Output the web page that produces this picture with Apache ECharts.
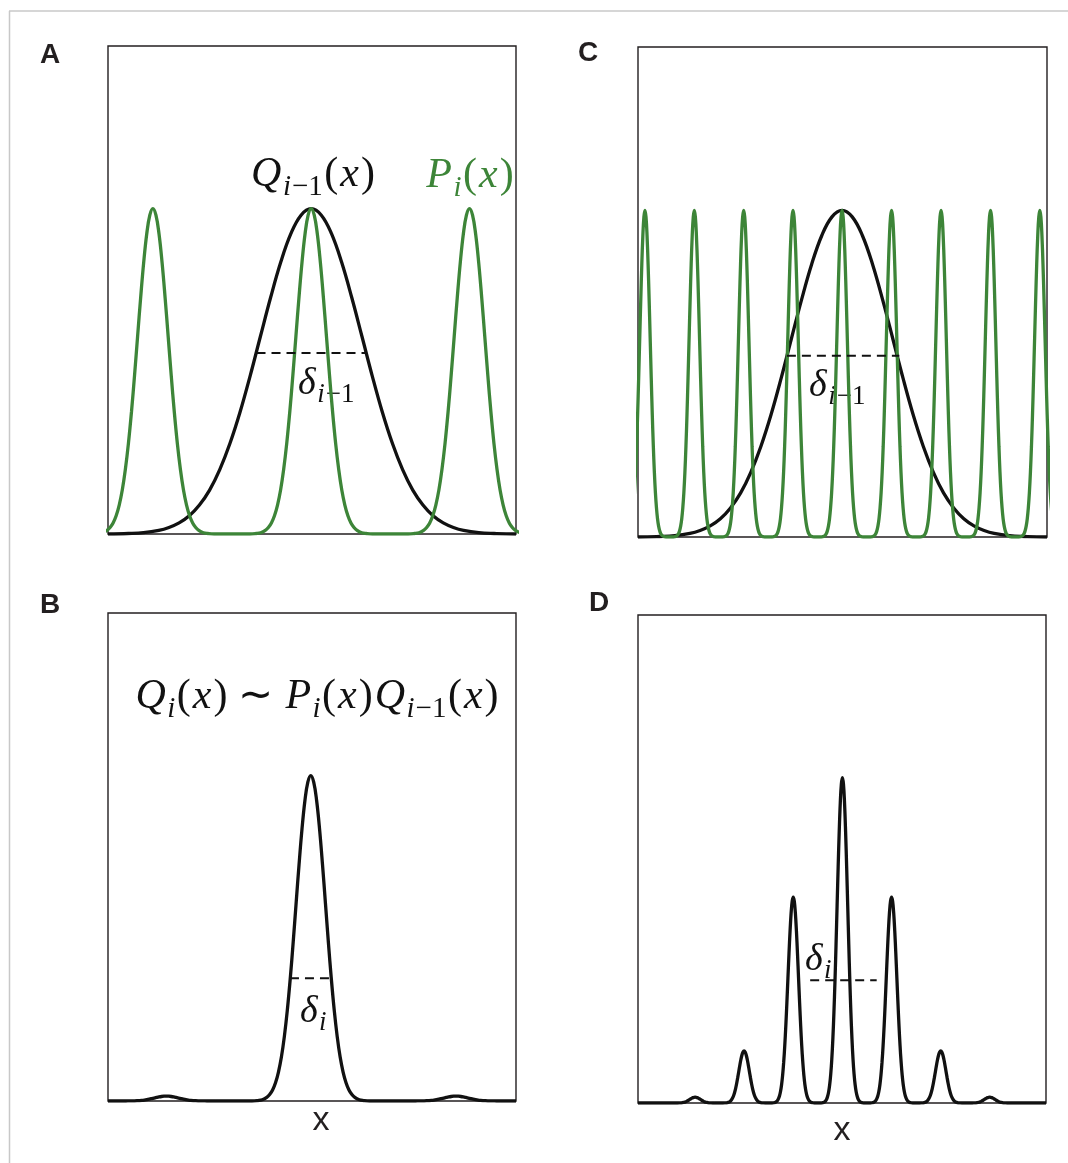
<!DOCTYPE html>
<html>
<head>
<meta charset="utf-8">
<script src="https://cdn.jsdelivr.net/npm/echarts@6/dist/echarts.min.js"></script>
<style>
html,body{margin:0;padding:0;background:#fff;}
#main{width:1068px;height:1163px;}
</style>
</head>
<body>
<div id="main"></div>
<script>
// one half of a peak: steps in peak widths from the top, level relative to the top
var shapeSteps  = [0, 0.2, 0.4, 0.6, 0.8, 1.0, 1.2, 1.4, 1.6, 1.8, 2.0, 2.2, 2.4, 2.6, 2.8, 3.0, 3.3, 3.6, 4.0];
var shapeLevels = [1, 0.980, 0.923, 0.835, 0.726, 0.607, 0.487, 0.375, 0.278, 0.198, 0.135, 0.089, 0.056, 0.034, 0.020, 0.011, 0.004, 0.0015, 0];

// A: Q_{i-1}(x) and the comb P_i(x)
var qPrevCentersA = [49.8];
var qPrevHeightsA = [1];
var qPrevWidthsA  = [12.45];
var combCentersA  = [11.0, 49.8, 88.6];
var combHeightsA  = [1, 1, 1];
var combWidthsA   = [3.75, 3.75, 3.75];
var deltaSpanA  = [36.4, 63.4];
var deltaLevelA = 0.556;

// B: Q_i(x) = P_i(x) Q_{i-1}(x)
var qCentersB = [14.3, 49.7, 85.3];
var qHeightsB = [0.015, 1, 0.015];
var qWidthsB  = [3, 3.6, 3];
var deltaSpanB  = [44.6, 54.9];
var deltaLevelB = 0.377;

// C: same Q_{i-1}(x), finer comb
var qPrevCentersC = [49.9];
var qPrevHeightsC = [1];
var qPrevWidthsC  = [12.4];
var combCentersC  = [1.7, 13.77, 25.84, 37.9, 49.9, 62.0, 74.1, 86.2, 98.25];
var combHeightsC  = [1, 1, 1, 1, 1, 1, 1, 1, 1];
var combWidthsC   = [1.28, 1.28, 1.28, 1.28, 1.28, 1.28, 1.28, 1.28, 1.28];
var deltaSpanC  = [36.4, 63.9];
var deltaLevelC = 0.555;

// D: product, several peaks
var qCentersD = [14.0, 26.0, 38.05, 50.1, 62.15, 74.2, 86.2];
var qHeightsD = [0.018, 0.16, 0.633, 1, 0.633, 0.16, 0.018];
var qWidthsD  = [1.3, 1.3, 1.3, 1.3, 1.3, 1.3, 1.3];
var deltaSpanD  = [42.2, 58.5];
var deltaLevelD = 0.377;

var panelLetters = ['A', 'B', 'C', 'D'];

function buildCurve(centers, heights, widths) {
    var pts = [];
    for (var k = 0; k < centers.length; k++) {
        for (var j = shapeSteps.length - 1; j > 0; j--) {
            pts.push([centers[k] - shapeSteps[j] * widths[k], heights[k] * shapeLevels[j]]);
        }
        for (j = 0; j < shapeSteps.length; j++) {
            pts.push([centers[k] + shapeSteps[j] * widths[k], heights[k] * shapeLevels[j]]);
        }
    }
    if (pts[0][0] > 0) pts.unshift([0, 0]);
    if (pts[pts.length - 1][0] < 100) pts.push([100, 0]);
    return pts;
}

var black = '#111111';
var green = '#3d8538';
var ink = '#231f20';

function curve(idx, pts, color) {
    return {
        type: 'line', xAxisIndex: idx, yAxisIndex: idx,
        data: pts, symbol: 'none', smooth: 0.4,
        lineStyle: {color: color, width: 3.3}, silent: true
    };
}
function dashed(idx, span, level) {
    return {
        type: 'line', xAxisIndex: idx, yAxisIndex: idx,
        data: [[span[0], level], [span[1], level]], symbol: 'none',
        lineStyle: {color: black, width: 2, type: [9, 6]}, silent: true
    };
}

var grids = [
    {left: 108, top: 46, width: 408, height: 488},   // A
    {left: 108, top: 613, width: 408, height: 488},  // B
    {left: 638, top: 47, width: 409, height: 490},   // C
    {left: 638, top: 615, width: 408, height: 488}   // D
];
grids.forEach(function (g) {
    g.show = true;
    g.borderColor = ink;
    g.borderWidth = 1.4;
    g.backgroundColor = 'transparent';
});

var xAxes = [], yAxes = [];
for (var i = 0; i < 4; i++) {
    xAxes.push({type: 'value', gridIndex: i, min: 0, max: 100, show: false});
    yAxes.push({type: 'value', gridIndex: i, min: 0, max: 1.5, show: false});
}

var mathFont = '"Liberation Serif","Times New Roman",serif';
function mathRich(size, color) {
    var sub = Math.round(size * 0.7);
    return {
        m: {fontFamily: mathFont, fontStyle: 'italic', fontSize: size, lineHeight: size * 1.3, padding: [0, 1], fill: color},
        r: {fontFamily: mathFont, fontSize: size, lineHeight: size * 1.3, padding: [0, 1], fill: color},
        s: {fontFamily: mathFont, fontStyle: 'italic', fontSize: sub, verticalAlign: 'bottom', padding: [0, 0.5], fill: color},
        t: {fontFamily: mathFont, fontSize: sub, verticalAlign: 'bottom', padding: [0, 0.5], fill: color}
    };
}
function mathText(x, y, text, size, color) {
    return {
        type: 'text', x: x, y: y, silent: true,
        style: {text: text, align: 'center', verticalAlign: 'middle', rich: mathRich(size, color)}
    };
}
function plainText(x, y, text, font) {
    return {
        type: 'text', x: x, y: y, silent: true,
        style: {text: text, align: 'center', verticalAlign: 'middle', font: font, fill: ink}
    };
}

var letterPos = [[50, 55], [50, 605], [588, 53], [599, 603]];
var graphics = [
    {type: 'line', shape: {x1: 9, y1: 11, x2: 1068, y2: 11}, style: {stroke: '#c8c8c8', lineWidth: 1.5}, silent: true},
    {type: 'line', shape: {x1: 9.5, y1: 11, x2: 9.5, y2: 1163}, style: {stroke: '#c8c8c8', lineWidth: 1.5}, silent: true}
];
panelLetters.forEach(function (l, k) {
    graphics.push(plainText(letterPos[k][0], letterPos[k][1], l, 'bold 28px "Liberation Sans", Arial, sans-serif'));
});
graphics.push(mathText(313, 175, '{m|Q}{s|i}{t|−1}{r|(}{m|x}{r|)}', 42, black));
graphics.push(mathText(470, 176, '{m|P}{s|i}{r|(}{m|x}{r|)}', 42, green));
graphics.push(mathText(326, 384, '{m|δ}{s|i}{t|−1}', 38, black));
graphics.push(mathText(837, 386, '{m|δ}{s|i}{t|−1}', 38, black));
graphics.push(mathText(317, 697, '{m|Q}{s|i}{r|(}{m|x}{r|) ∼ }{m|P}{s|i}{r|(}{m|x}{r|)}{m|Q}{s|i}{t|−1}{r|(}{m|x}{r|)}', 42, black));
graphics.push(mathText(313, 1012, '{m|δ}{s|i}', 38, black));
graphics.push(mathText(818, 960, '{m|δ}{s|i}', 38, black));
graphics.push(plainText(321, 1121, 'x', '34px "Liberation Sans", Arial, sans-serif'));
graphics.push(plainText(842, 1131, 'x', '34px "Liberation Sans", Arial, sans-serif'));

var option = {
    animation: false,
    backgroundColor: '#ffffff',
    grid: grids,
    xAxis: xAxes,
    yAxis: yAxes,
    series: [
        curve(0, buildCurve(qPrevCentersA, qPrevHeightsA, qPrevWidthsA), black),
        curve(0, buildCurve(combCentersA, combHeightsA, combWidthsA), green),
        dashed(0, deltaSpanA, deltaLevelA),
        curve(1, buildCurve(qCentersB, qHeightsB, qWidthsB), black),
        dashed(1, deltaSpanB, deltaLevelB),
        curve(2, buildCurve(qPrevCentersC, qPrevHeightsC, qPrevWidthsC), black),
        curve(2, buildCurve(combCentersC, combHeightsC, combWidthsC), green),
        dashed(2, deltaSpanC, deltaLevelC),
        curve(3, buildCurve(qCentersD, qHeightsD, qWidthsD), black),
        dashed(3, deltaSpanD, deltaLevelD)
    ],
    graphic: graphics
};

var myChart = echarts.init(document.getElementById('main'));
myChart.setOption(option);
</script>
</body>
</html>
